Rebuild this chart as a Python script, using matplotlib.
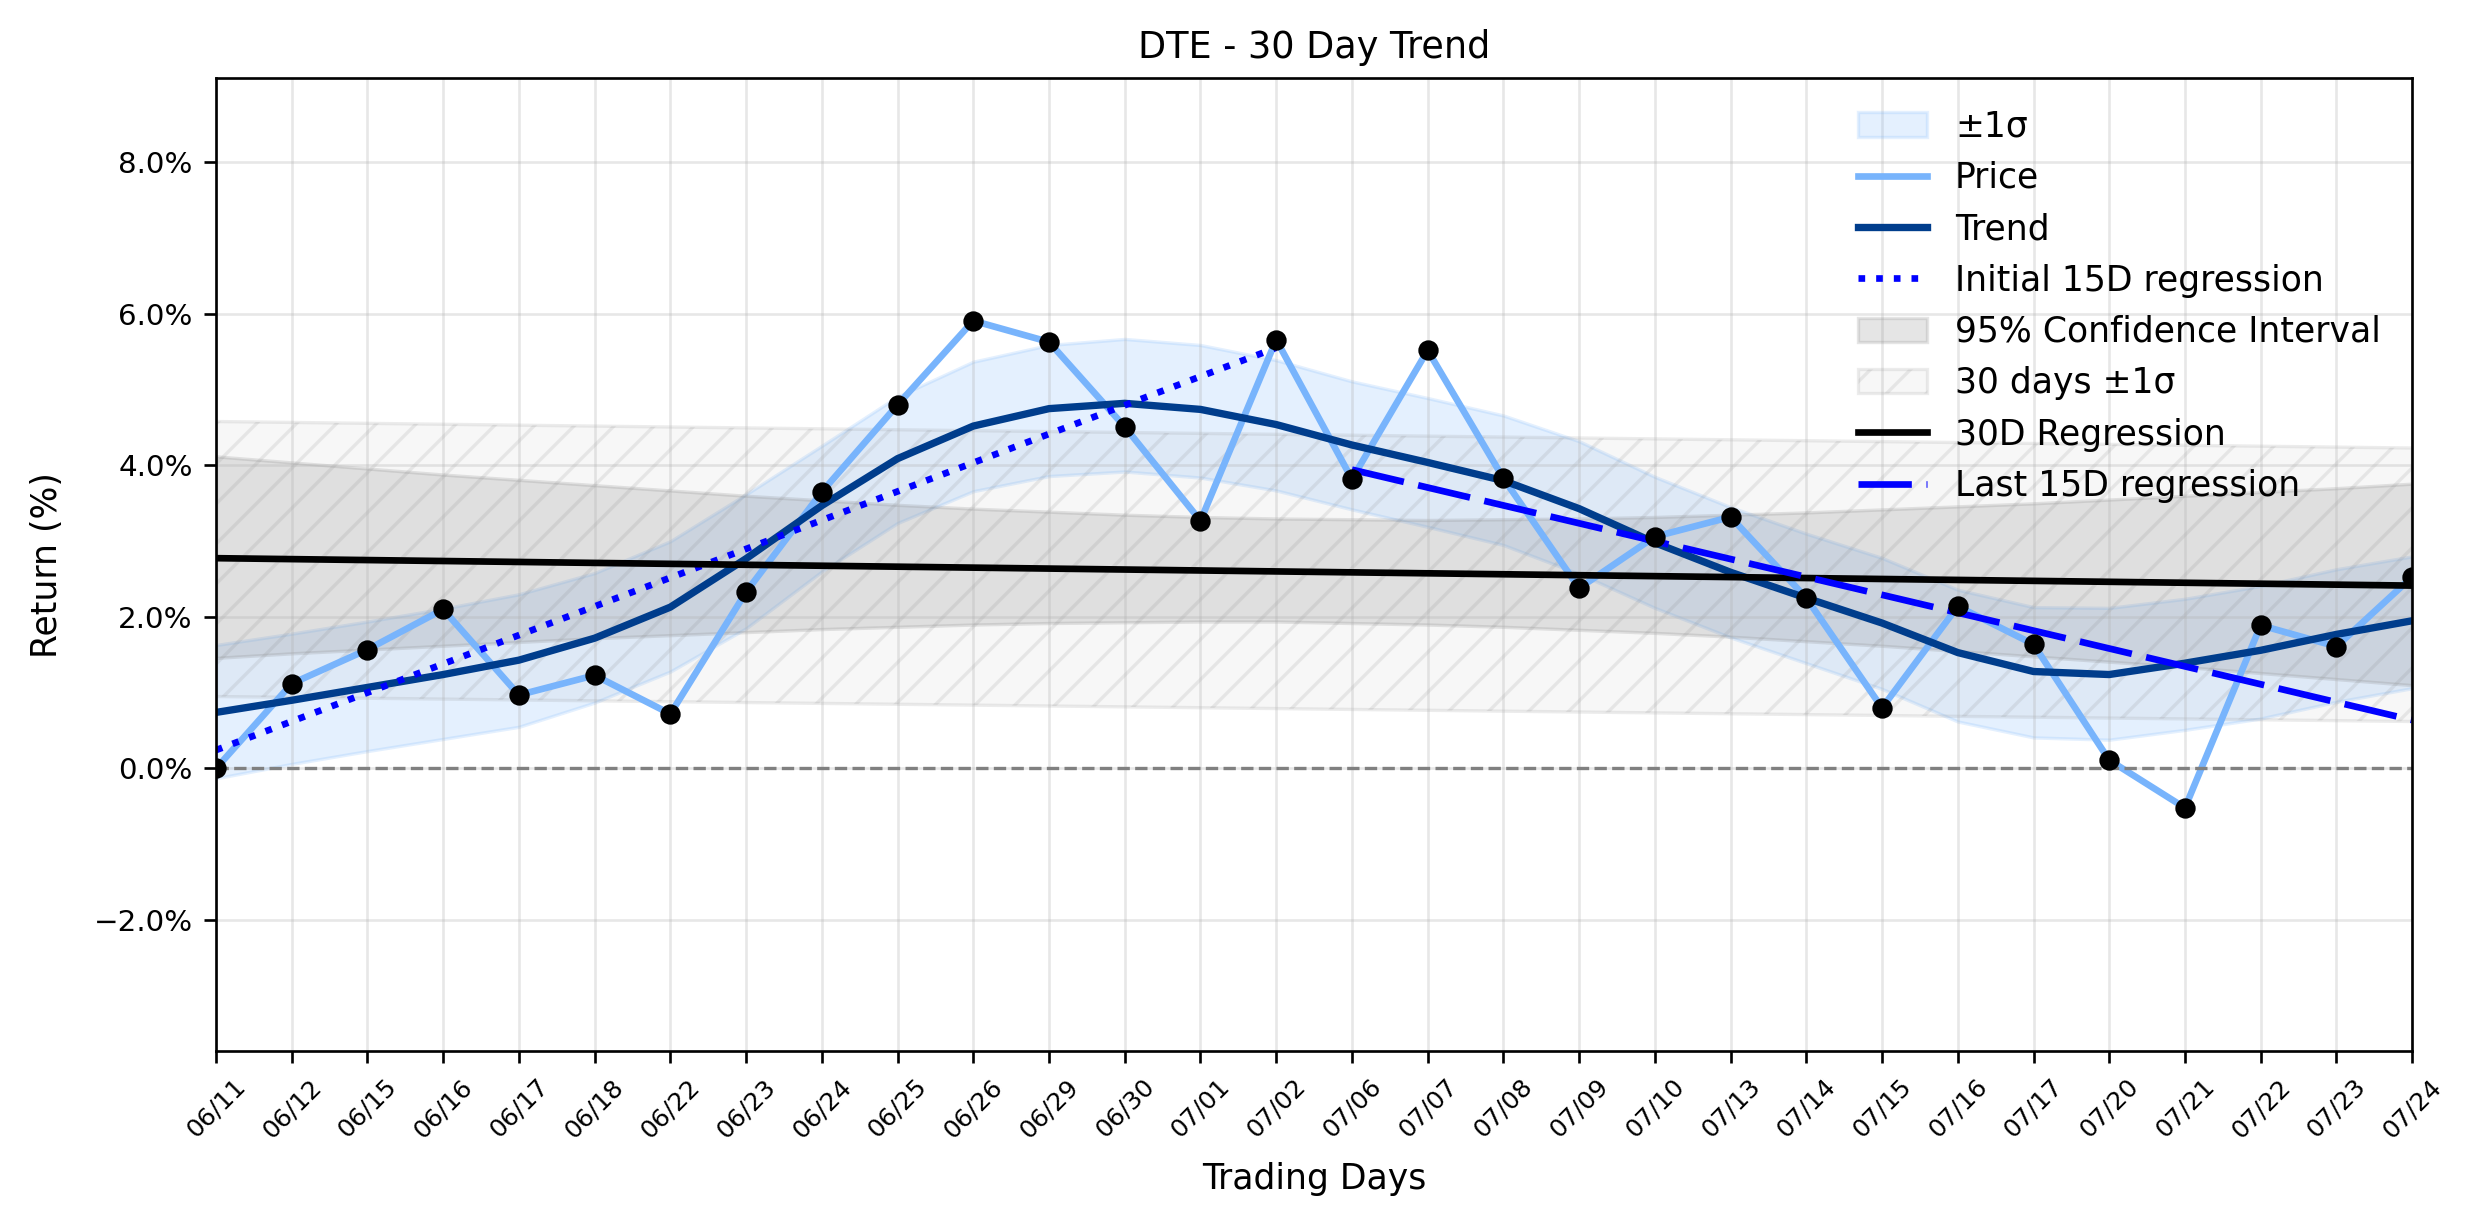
import matplotlib
matplotlib.use('Agg')
import matplotlib.pyplot as plt
import numpy as np
from matplotlib.ticker import PercentFormatter, MultipleLocator

# Торговые дни (30 дней)
days = ['06/11', '06/12', '06/15', '06/16', '06/17', '06/18', '06/22', '06/23',
        '06/24', '06/25', '06/26', '06/29', '06/30', '07/01', '07/02', '07/06',
        '07/07', '07/08', '07/09', '07/10', '07/13', '07/14', '07/15', '07/16',
        '07/17', '07/20', '07/21', '07/22', '07/23', '07/24']

# Доходность, %
price = [0.00, 1.12, 1.57, 2.10, 0.97, 1.23, 0.72, 2.33, 3.65, 4.80,
         5.91, 5.63, 4.51, 3.27, 5.66, 3.82, 5.52, 3.83, 2.38, 3.06,
         3.32, 2.25, 0.80, 2.14, 1.64, 0.11, -0.52, 1.89, 1.61, 2.53]

trend = [0.74, 0.90, 1.07, 1.24, 1.43, 1.72, 2.13, 2.77, 3.47, 4.09,
         4.52, 4.75, 4.82, 4.74, 4.54, 4.27, 4.04, 3.80, 3.43, 2.98,
         2.59, 2.25, 1.92, 1.53, 1.28, 1.24, 1.39, 1.56, 1.77, 1.95]

# полоса +-1 sigma вокруг тренда
sig_hi = [1.63, 1.78, 1.94, 2.11, 2.30, 2.58, 3.00, 3.62, 4.26, 4.91,
          5.37, 5.59, 5.67, 5.59, 5.39, 5.11, 4.89, 4.66, 4.32, 3.85,
          3.45, 3.10, 2.78, 2.36, 2.13, 2.12, 2.24, 2.41, 2.63, 2.80]
sig_lo = [-0.13, 0.06, 0.23, 0.39, 0.55, 0.87, 1.28, 1.85, 2.60, 3.24,
          3.66, 3.86, 3.92, 3.84, 3.67, 3.42, 3.19, 2.95, 2.57, 2.12,
          1.73, 1.39, 1.05, 0.62, 0.41, 0.38, 0.51, 0.66, 0.88, 1.06]

# 95% доверительный интервал регрессии
ci_hi = [4.12, 4.04, 3.96, 3.88, 3.81, 3.74, 3.67, 3.60, 3.54, 3.48,
         3.43, 3.39, 3.35, 3.32, 3.30, 3.29, 3.28, 3.29, 3.30, 3.32,
         3.35, 3.38, 3.42, 3.46, 3.50, 3.55, 3.60, 3.65, 3.70, 3.76]
ci_lo = [1.46, 1.52, 1.57, 1.62, 1.67, 1.72, 1.76, 1.80, 1.84, 1.87,
         1.90, 1.92, 1.93, 1.94, 1.94, 1.92, 1.90, 1.87, 1.83, 1.79,
         1.74, 1.68, 1.62, 1.55, 1.48, 1.41, 1.34, 1.26, 1.18, 1.10]

# 30 дней +-1 sigma (по краям периода)
band_hi = [4.58, 4.23]
band_lo = [0.95, 0.62]

c_price = '#78b4fc'
c_trend = '#003d8c'

x = np.arange(len(days))
x_ends = [x[0], x[-1]]

c30 = np.polyfit(x, price, 1)
c_first = np.polyfit(x[:15], price[:15], 1)
c_last = np.polyfit(x[15:], price[15:], 1)

fig = plt.figure(figsize=(2474 / 240, 1224 / 240), dpi=240)
ax = fig.add_axes([0.0873, 0.1413, 0.8877, 0.7947])

ax.fill_between(x, sig_lo, sig_hi, color=c_price, alpha=0.2, label='±1σ')
ax.plot(x, price, color=c_price, lw=2, label='Price')
ax.plot(x, trend, color=c_trend, lw=2.2, label='Trend')
ax.plot(x[:15], np.polyval(c_first, x[:15]), color='blue', ls=':', lw=2,
        label='Initial 15D regression')
ax.fill_between(x, ci_lo, ci_hi, color='gray', alpha=0.2,
                label='95% Confidence Interval')
ax.fill_between(x_ends, band_lo, band_hi, facecolor=(0.5, 0.5, 0.5, 0.06),
                edgecolor=(0.5, 0.5, 0.5, 0.15), hatch='//', lw=1,
                label='30 days ±1σ')
ax.plot(x, np.polyval(c30, x), color='black', lw=2, label='30D Regression')
ax.plot(x[15:], np.polyval(c_last, x[15:]), color='blue', ls=(0, (8, 2.2)),
        lw=2, label='Last 15D regression')

ax.scatter(x, price, color='black', s=26, zorder=5)
ax.axhline(0, color='gray', ls='--', lw=1)

ax.set_xlim(0, len(days) - 1)
ax.set_ylim(-3.73, 9.11)
ax.set_xticks(x)
ax.set_xticklabels(days, rotation=45, fontsize=7.5)
ax.yaxis.set_major_locator(MultipleLocator(2))
ax.yaxis.set_major_formatter(PercentFormatter(xmax=100, decimals=1))
ax.tick_params(axis='y', labelsize=8.8)
ax.grid(True, alpha=0.3)

ax.set_title('DTE - 30 Day Trend', fontsize=11)
ax.set_xlabel('Trading Days', fontsize=10.4, labelpad=6)
ax.set_ylabel('Return (%)', fontsize=10.4, labelpad=9)
ax.legend(loc='upper right', frameon=False, fontsize=10.4)

fig.savefig('out.png', dpi=240)
